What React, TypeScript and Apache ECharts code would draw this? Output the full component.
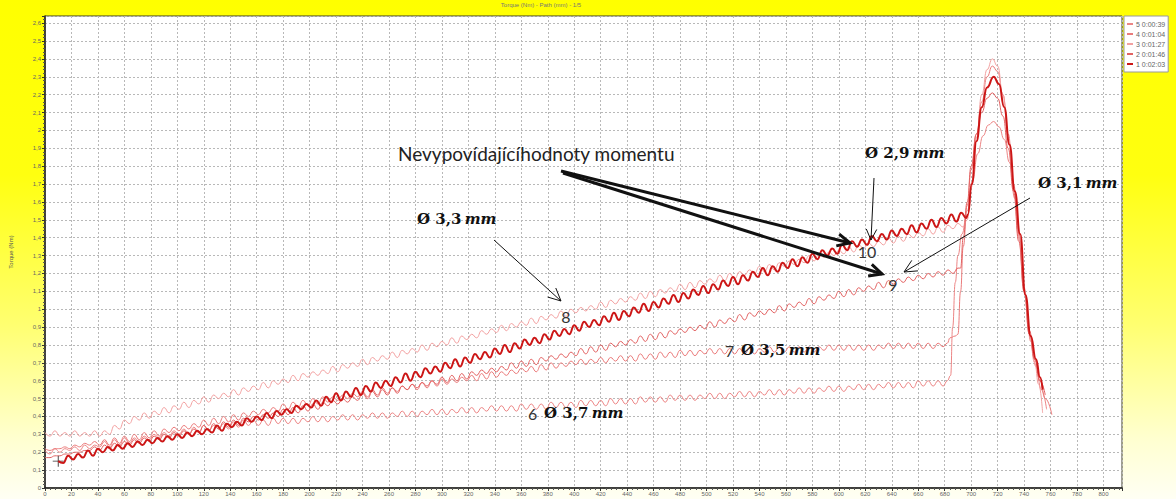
import React, { useEffect, useRef } from "react";
import * as echarts from "echarts";

// Legend names (run number and duration)
const runNames = ["5 0:00:39", "4 0:01:04", "3 0:01:27", "2 0:01:46", "1 0:02:03"];
const runColors = ["#ec8585", "#ea7b7b", "#f2a0a0", "#e26262", "#cc1616"];

// Sampling step (mm) of the rippled pressing phase and its start
const rippleStep = 3.75;
const rippleStart = [0, 0, 0, 0, 10];

// Torque (Nm) during the pressing phase, one value per sampling step
const run5Ripple = [
  0.21, 0.19, 0.22, 0.2, 0.22, 0.21, 0.23, 0.21, 0.24, 0.22, 0.24, 0.23,
  0.26, 0.23, 0.27, 0.24, 0.28, 0.25, 0.28, 0.26, 0.29, 0.27, 0.3, 0.28, 0.31, 0.29, 0.32, 0.3, 0.33, 0.3, 0.34, 0.31, 0.35, 0.32, 0.35, 0.33, 0.36, 0.33, 0.37, 0.34,
  0.38, 0.35, 0.38, 0.35, 0.38, 0.35, 0.39, 0.36, 0.39, 0.36, 0.39, 0.36, 0.39, 0.37, 0.4, 0.37, 0.4, 0.37, 0.4, 0.38, 0.41, 0.38, 0.41, 0.38, 0.41, 0.39, 0.42, 0.39, 0.42, 0.39,
  0.42, 0.4, 0.43, 0.4, 0.43, 0.4, 0.43, 0.41, 0.44, 0.41, 0.44, 0.41, 0.44, 0.42, 0.45, 0.42, 0.45, 0.42, 0.45, 0.43, 0.46, 0.43, 0.46, 0.43, 0.46, 0.43, 0.47, 0.44, 0.47, 0.44,
  0.47, 0.44, 0.48, 0.45, 0.48, 0.45, 0.48, 0.45, 0.49, 0.46, 0.49, 0.46, 0.49, 0.46, 0.5, 0.47, 0.5, 0.47, 0.5, 0.47, 0.51, 0.48, 0.51, 0.48, 0.51, 0.48, 0.52, 0.49, 0.52, 0.49,
  0.52, 0.49, 0.52, 0.5, 0.53, 0.5, 0.53, 0.5, 0.53, 0.51, 0.54, 0.51, 0.54, 0.51, 0.54, 0.52, 0.55, 0.52, 0.55, 0.52, 0.55, 0.53, 0.56, 0.53, 0.56, 0.53, 0.56, 0.54, 0.57, 0.54,
  0.57, 0.54, 0.57, 0.55, 0.58, 0.55, 0.58, 0.55, 0.58, 0.56, 0.59, 0.56, 0.59, 0.56, 0.59, 0.56, 0.6, 0.57, 0.6, 0.57, 0.6, 0.57,
];
const run4Ripple = [
  0.22, 0.21, 0.22, 0.22, 0.23, 0.22, 0.24, 0.23, 0.25, 0.24,
  0.26, 0.24, 0.27, 0.24, 0.28, 0.25, 0.29, 0.26, 0.3, 0.27, 0.31, 0.28, 0.32, 0.29, 0.33, 0.31, 0.34, 0.32, 0.35, 0.33, 0.36, 0.34, 0.38, 0.35, 0.39, 0.36, 0.4, 0.37, 0.41, 0.38,
  0.42, 0.4, 0.43, 0.41, 0.44, 0.42, 0.45, 0.43, 0.47, 0.44, 0.48, 0.45, 0.49, 0.46, 0.5, 0.47, 0.51, 0.48, 0.51, 0.49, 0.52, 0.5, 0.53, 0.51, 0.54, 0.51, 0.55, 0.52, 0.56, 0.53,
  0.56, 0.54, 0.57, 0.55, 0.58, 0.55, 0.59, 0.56, 0.6, 0.57, 0.61, 0.58, 0.61, 0.59, 0.62, 0.6, 0.63, 0.6, 0.64, 0.61, 0.65, 0.62, 0.65, 0.63, 0.66, 0.64, 0.67, 0.65, 0.68, 0.65,
  0.69, 0.66, 0.7, 0.67, 0.7, 0.68, 0.71, 0.69, 0.72, 0.69, 0.72, 0.7, 0.73, 0.7, 0.73, 0.71, 0.74, 0.71, 0.74, 0.71, 0.75, 0.72, 0.75, 0.72, 0.76, 0.73, 0.76, 0.73, 0.77, 0.74,
  0.77, 0.74, 0.77, 0.75, 0.78, 0.75, 0.78, 0.75, 0.78, 0.75, 0.78, 0.75, 0.78, 0.75, 0.78, 0.76, 0.79, 0.76, 0.79, 0.76, 0.79, 0.76, 0.79, 0.76, 0.79, 0.76, 0.79, 0.77, 0.8, 0.77,
  0.8, 0.77, 0.8, 0.77, 0.8, 0.77, 0.8, 0.77, 0.8, 0.78, 0.81, 0.78, 0.81, 0.78, 0.81, 0.78, 0.81, 0.78, 0.81, 0.78, 0.81, 0.79,
];
const run3Ripple = [
  0.31, 0.29, 0.32, 0.29, 0.31, 0.29, 0.32, 0.29, 0.31, 0.29, 0.32, 0.29,
  0.32, 0.3, 0.35, 0.33, 0.38, 0.36, 0.4, 0.38, 0.42, 0.39, 0.43, 0.41, 0.45, 0.42, 0.46, 0.44, 0.48, 0.45, 0.49, 0.47, 0.51, 0.48, 0.52, 0.5, 0.53, 0.51, 0.55, 0.52,
  0.56, 0.54, 0.57, 0.55, 0.59, 0.56, 0.6, 0.58, 0.61, 0.59, 0.63, 0.6, 0.64, 0.62, 0.65, 0.63, 0.66, 0.64, 0.68, 0.65, 0.69, 0.67, 0.7, 0.68, 0.72, 0.69, 0.73, 0.71, 0.74, 0.72,
  0.76, 0.73, 0.77, 0.75, 0.78, 0.76, 0.8, 0.77, 0.81, 0.79, 0.82, 0.8, 0.84, 0.81, 0.85, 0.83, 0.86, 0.84, 0.88, 0.86, 0.89, 0.87, 0.91, 0.88, 0.92, 0.9, 0.93, 0.91, 0.95, 0.92,
  0.96, 0.94, 0.97, 0.95, 0.99, 0.96, 1.0, 0.98, 1.01, 0.99, 1.02, 1.0, 1.04, 1.01, 1.05, 1.03, 1.06, 1.04, 1.07, 1.05, 1.09, 1.06, 1.1, 1.07, 1.11, 1.09, 1.12, 1.1, 1.14, 1.11,
  1.15, 1.12, 1.16, 1.14, 1.17, 1.15, 1.19, 1.16, 1.2, 1.17, 1.21, 1.19, 1.22, 1.2, 1.24, 1.21, 1.25, 1.22, 1.26, 1.24, 1.27, 1.25, 1.28, 1.26, 1.3, 1.27, 1.31, 1.29, 1.32, 1.3,
  1.33, 1.31, 1.35, 1.32, 1.36, 1.34, 1.37, 1.35, 1.38, 1.36, 1.4, 1.37, 1.41, 1.38, 1.42, 1.4, 1.43, 1.41, 1.45, 1.42, 1.46, 1.43, 1.47, 1.45, 1.48, 1.46,
];
const run2Ripple = [
  0.17, 0.17, 0.18, 0.18, 0.19, 0.19, 0.2, 0.2, 0.21, 0.21,
  0.23, 0.21, 0.24, 0.22, 0.25, 0.23, 0.26, 0.24, 0.27, 0.25, 0.28, 0.26, 0.29, 0.27, 0.3, 0.28, 0.31, 0.29, 0.32, 0.3, 0.33, 0.31, 0.35, 0.32, 0.36, 0.33, 0.37, 0.34, 0.38, 0.35,
  0.39, 0.37, 0.4, 0.38, 0.41, 0.39, 0.42, 0.4, 0.44, 0.41, 0.45, 0.42, 0.46, 0.43, 0.47, 0.44, 0.48, 0.46, 0.49, 0.47, 0.5, 0.48, 0.51, 0.49, 0.53, 0.5, 0.54, 0.51, 0.55, 0.52,
  0.56, 0.53, 0.57, 0.55, 0.58, 0.56, 0.59, 0.57, 0.6, 0.58, 0.62, 0.59, 0.63, 0.6, 0.64, 0.61, 0.65, 0.63, 0.66, 0.64, 0.67, 0.65, 0.68, 0.66, 0.7, 0.67, 0.71, 0.68, 0.72, 0.69,
  0.73, 0.71, 0.74, 0.72, 0.75, 0.73, 0.76, 0.74, 0.78, 0.75, 0.79, 0.76, 0.8, 0.77, 0.81, 0.79, 0.82, 0.8, 0.83, 0.81, 0.85, 0.82, 0.86, 0.83, 0.87, 0.84, 0.88, 0.86, 0.89, 0.87,
  0.9, 0.88, 0.91, 0.89, 0.93, 0.9, 0.94, 0.92, 0.95, 0.93, 0.97, 0.94, 0.98, 0.96, 0.99, 0.97, 1.0, 0.98, 1.02, 0.99, 1.03, 1.01, 1.04, 1.02, 1.06, 1.03, 1.07, 1.05, 1.08, 1.06,
  1.1, 1.07, 1.11, 1.08, 1.12, 1.1, 1.13, 1.11, 1.15, 1.12, 1.16, 1.14, 1.17, 1.15, 1.18, 1.16, 1.19, 1.17, 1.2, 1.18, 1.21, 1.19, 1.22, 1.2, 1.23,
];
const run1Ripple = [
  0.15, 0.14, 0.18, 0.16, 0.19, 0.17, 0.21, 0.18, 0.22, 0.2, 0.23, 0.21, 0.24, 0.22, 0.25, 0.23, 0.26, 0.24, 0.27, 0.25, 0.28, 0.26, 0.29, 0.27, 0.3, 0.28,
  0.31, 0.29, 0.32, 0.3, 0.33, 0.31, 0.35, 0.32, 0.36, 0.34, 0.37, 0.35, 0.39, 0.37, 0.4, 0.38, 0.42, 0.39, 0.43, 0.41, 0.44, 0.42, 0.46, 0.44, 0.47,
  0.45, 0.49, 0.46, 0.51, 0.48, 0.53, 0.49, 0.54, 0.51, 0.56, 0.52, 0.57, 0.54, 0.59, 0.56, 0.6, 0.57, 0.62, 0.59, 0.64, 0.6, 0.65, 0.62, 0.67, 0.64, 0.68, 0.65, 0.7, 0.67,
  0.72, 0.68, 0.73, 0.7, 0.75, 0.72, 0.76, 0.73, 0.78, 0.75, 0.8, 0.76, 0.81, 0.78, 0.83, 0.8, 0.84, 0.81, 0.86, 0.83, 0.88, 0.85, 0.89, 0.86, 0.91, 0.88, 0.93, 0.9, 0.94, 0.91,
  0.96, 0.93, 0.98, 0.94, 0.99, 0.96, 1.01, 0.98, 1.03, 0.99, 1.04, 1.01, 1.06, 1.03, 1.08, 1.04, 1.09, 1.06, 1.11, 1.08, 1.13, 1.09, 1.14, 1.11, 1.16, 1.13, 1.18, 1.14, 1.19, 1.16,
  1.21, 1.18, 1.23, 1.19, 1.24, 1.21, 1.26, 1.23, 1.28, 1.24, 1.29, 1.26, 1.31, 1.28, 1.33, 1.3, 1.34, 1.31, 1.36, 1.33, 1.38, 1.35, 1.39, 1.36, 1.41, 1.38, 1.42, 1.39, 1.44, 1.41,
  1.45, 1.42, 1.47, 1.43, 1.48, 1.45, 1.5, 1.46, 1.51, 1.48, 1.53, 1.49, 1.54, 1.51,
];

// Torque peak and release at the end of each run, [path (mm), torque (Nm)]
const run5Peak = [[682, 0.6], [684.5, 0.63], [686, 0.9], [688, 1.15], [690, 1.3], [693, 1.42], [697, 1.55], [701, 1.72], [705, 1.87], [709, 1.97], [713, 2.03], [717, 2.05], [721, 2.02], [725, 1.95], [729, 1.82], [733, 1.62], [737, 1.38], [741, 1.08], [745, 0.82], [749, 0.68], [753, 0.55], [757, 0.44]];
const run4Peak = [[682, 0.81], [684, 0.84], [688, 0.85], [690, 0.86], [692, 1.1], [694, 1.35], [697, 1.58], [700, 1.78], [704, 1.98], [708, 2.16], [712, 2.3], [716, 2.36], [720, 2.33], [724, 2.2], [728, 1.98], [732, 1.7], [736, 1.42], [740, 1.12], [744, 0.88], [748, 0.72], [752, 0.6], [756, 0.5], [761, 0.41]];
const run3Peak = [[697, 1.5], [700, 1.68], [704, 1.96], [708, 2.2], [712, 2.34], [716, 2.4], [720, 2.36], [724, 2.2], [728, 1.96], [732, 1.68], [736, 1.4], [740, 1.1], [744, 0.86], [748, 0.7], [751, 0.58], [754, 0.42]];
const run2Peak = [[692, 1.23], [694, 1.4], [697, 1.6], [700, 1.8], [704, 1.98], [708, 2.1], [712, 2.18], [716, 2.21], [720, 2.18], [724, 2.08], [728, 1.9], [732, 1.66], [736, 1.38], [740, 1.1], [744, 0.86], [748, 0.72], [752, 0.6], [756, 0.52]];
const run1Peak = [[697.5, 1.53], [700.5, 1.7], [704, 1.94], [708, 2.13], [712, 2.24], [717, 2.3], [721, 2.26], [725, 2.13], [729, 1.92], [733, 1.66], [737, 1.42], [741, 1.08], [745, 0.85], [749, 0.72], [752, 0.62], [754, 0.55]];

const ripples = [run5Ripple, run4Ripple, run3Ripple, run2Ripple, run1Ripple];
const peaks = [run5Peak, run4Peak, run3Peak, run2Peak, run1Peak];

// Axis extents and tick steps
const pathMax = 814;
const pathStep = 20;
const torqueMax = 2.64;
const torqueStep = 0.1;

const chartTitle = "Torque (Nm) - Path (mm) - 1/5";
const noteText = "Nevypovídajícíhodnoty momentu";

function runSeriesData(i: number) {
  const peak = peaks[i];
  const pressing = ripples[i]
    .map((y, k) => [rippleStart[i] + k * rippleStep, y])
    .filter((p) => p[0] < peak[0][0]);
  return pressing.concat(peak);
}

function arrowHead(x1: number, y1: number, x2: number, y2: number, len: number, spread: number) {
  const a = Math.atan2(y2 - y1, x2 - x1);
  const p1 = [x2 - len * Math.cos(a - spread), y2 - len * Math.sin(a - spread)];
  const p2 = [x2 - len * Math.cos(a + spread), y2 - len * Math.sin(a + spread)];
  return [p1, [x2, y2], p2];
}

function arrow(x1: number, y1: number, x2: number, y2: number, w: number, len: number) {
  return [
    { type: "line", shape: { x1, y1, x2, y2 }, style: { stroke: "#111", lineWidth: w }, z: 100 },
    { type: "polyline", shape: { points: arrowHead(x1, y1, x2, y2, len, 0.45) }, style: { stroke: "#111", lineWidth: w, fill: null }, z: 100 },
  ];
}

const mathRich = {
  d: { fontFamily: "DejaVu Serif", fontWeight: "bold", fontSize: 15, fill: "#111" },
  u: { fontFamily: "DejaVu Serif", fontWeight: "bold", fontStyle: "italic", fontSize: 15, fill: "#111" },
  n: { fontFamily: "Lato", fontSize: 16, fill: "#333" },
};

function mathLabel(x: number, y: number, num: string, dia: string) {
  return {
    type: "text",
    x,
    y,
    z: 100,
    style: {
      text: (num ? `{n|${num}}  ` : "") + `{d|Ø ${dia}} {u|mm}`,
      rich: mathRich,
      verticalAlign: "middle",
    },
  };
}

function numberLabel(x: number, y: number, text: string) {
  return {
    type: "text",
    x,
    y,
    z: 100,
    style: { text, fontFamily: "Lato", fontSize: 16, fill: "#333", align: "center", verticalAlign: "middle" },
  };
}

export default function App() {
  const ref = useRef<HTMLDivElement>(null);

  useEffect(() => {
    if (!ref.current) return;
    const chart = echarts.init(ref.current, null, { renderer: "svg" });
    const fmt = (v: number) => String(Math.round(v * 10) / 10).replace(".", ",");

    const series = runNames.map((name, i) => {
      const data = runSeriesData(i);
      return {
        name,
        type: "line",
        data,
        showSymbol: false,
        symbol: "none",
        smooth: 0.5,
        smoothMonotone: "x",
        lineStyle: { color: runColors[i], width: i === 4 ? 2 : 1 },
        itemStyle: { color: runColors[i] },
        z: i === 4 ? 5 : 3,
        markPoint:
          i === 4
            ? {
                symbol: "path://M0,4.6h10v0.8h-10zM4.6,0h0.8v10h-0.8z",
                symbolSize: 11,
                itemStyle: { color: "#333" },
                label: { show: false },
                data: [{ coord: data[0] }],
              }
            : undefined,
      };
    });

    chart.setOption({
      animation: false,
      textStyle: { fontFamily: "Liberation Sans" },
      grid: {
        left: 42,
        right: 54,
        top: 16,
        bottom: 11,
        show: true,
        backgroundColor: "#ffffff",
        borderColor: "#3a3a2a",
        borderWidth: 1,
      },
      legend: {
        data: runNames,
        orient: "vertical",
        left: 1124,
        top: 16,
        backgroundColor: "#ffffff",
        borderColor: "#999",
        borderWidth: 1,
        borderRadius: 0,
        padding: [4, 3, 4, 3],
        itemGap: 2,
        itemWidth: 6,
        itemHeight: 2,
        icon: "rect",
        textStyle: { fontSize: 7, lineHeight: 8, color: "#666", padding: [0, 0, 0, -2] },
      },
      xAxis: {
        type: "value",
        min: 0,
        max: pathMax,
        interval: pathStep,
        axisLine: { show: true, onZero: false, lineStyle: { color: "#222", width: 1.5 } },
        axisTick: { show: true, length: 3, lineStyle: { color: "#333" } },
        minorTick: { show: true, splitNumber: 5, length: 2, lineStyle: { color: "#555" } },
        axisLabel: { fontSize: 6, color: "#666", margin: 3, showMaxLabel: false },
        splitLine: { show: true, lineStyle: { color: "#b8b8b8", type: [2, 2], width: 1 } },
      },
      yAxis: {
        type: "value",
        min: 0,
        max: torqueMax,
        interval: torqueStep,
        name: "Torque (Nm)",
        nameLocation: "middle",
        nameGap: 31,
        nameTextStyle: { fontSize: 6, color: "#555" },
        axisLine: { show: true, onZero: false, lineStyle: { color: "#222", width: 1.5 } },
        axisTick: { show: true, length: 3, lineStyle: { color: "#333" } },
        minorTick: { show: true, splitNumber: 5, length: 2, lineStyle: { color: "#555" } },
        axisLabel: { fontSize: 6, color: "#666", margin: 4, showMaxLabel: false, formatter: fmt },
        splitLine: { show: true, lineStyle: { color: "#b8b8b8", type: [2, 2], width: 1 } },
      },
      series,
      graphic: [
        { type: "text", x: 541, y: 5, z: 100, style: { text: chartTitle, fontSize: 6, fill: "#777", align: "center", verticalAlign: "middle" } },
        { type: "text", x: 398, y: 153, z: 100, style: { text: noteText, fontFamily: "Lato", fontSize: 19, fill: "#222", verticalAlign: "middle" } },
        ...arrow(561, 171, 850, 243, 3, 14),
        ...arrow(563, 173, 882, 274, 3, 14),
        mathLabel(417, 219, "", "3,3"),
        ...arrow(494, 240, 561, 301, 1, 14),
        numberLabel(566, 316, "8"),
        mathLabel(865, 153, "", "2,9"),
        ...arrow(874, 178, 871, 240, 1, 12),
        numberLabel(867, 251, "10"),
        mathLabel(1038, 183, "", "3,1"),
        ...arrow(1030, 198, 904, 272, 1, 14),
        numberLabel(893, 284, "9"),
        mathLabel(725, 350, "7", "3,5"),
        mathLabel(528, 413, "6", "3,7"),
      ],
    });

    return () => chart.dispose();
  }, []);

  return (
    <div
      ref={ref}
      style={{
        position: "fixed",
        left: 0,
        top: 0,
        width: 1176,
        height: 499,
        background: "linear-gradient(to bottom, #ffff00 0%, #ffff10 35%, #ffff70 65%, #ffffd0 88%, #fffff4 100%)",
      }}
    />
  );
}
